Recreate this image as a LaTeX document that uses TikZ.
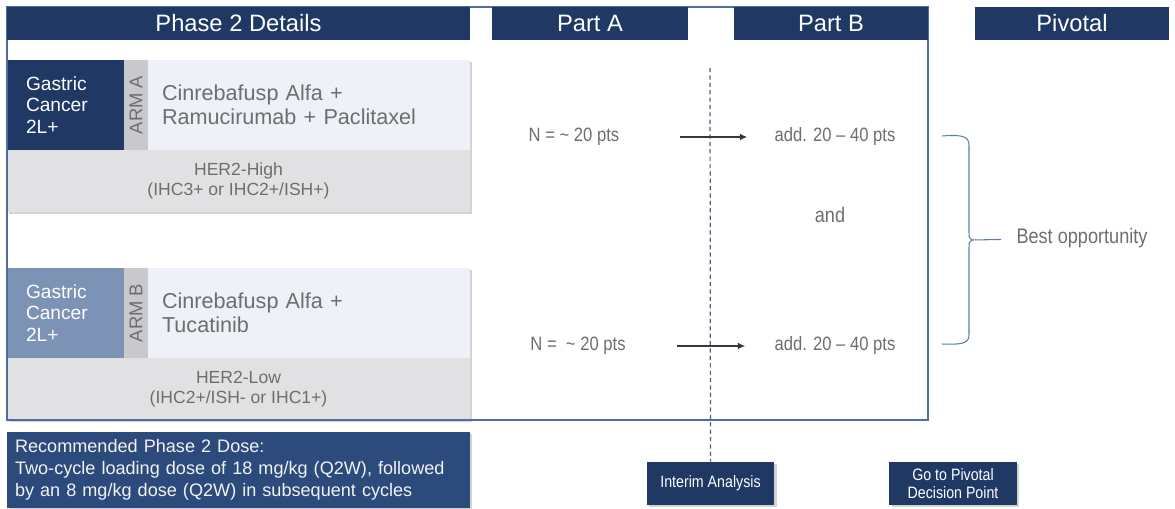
\documentclass[tikz,border=0pt]{standalone}
\usepackage{fontspec}
\setmainfont{Liberation Sans}
\newfontfamily\narrowfont[FakeStretch=0.86,Ligatures=TeX]{Liberation Sans}
\usetikzlibrary{positioning,arrows.meta,shadows}

\definecolor{navy}{RGB}{31,56,100}
\definecolor{dosebl}{RGB}{44,75,124}
\definecolor{steel}{RGB}{124,147,181}
\definecolor{panel}{RGB}{238,241,248}
\definecolor{band}{RGB}{225,225,228}
\definecolor{strip}{RGB}{200,200,205}
\definecolor{framebl}{RGB}{74,110,165}
\definecolor{txtgray}{RGB}{110,110,110}

\begin{document}
\begin{tikzpicture}[
      x=0.02cm, y=-0.02cm,
      shade/.style={drop shadow={shadow xshift=1.3pt, shadow yshift=-1.3pt, opacity=.35}},
      hdrbox/.style={fill=navy, text=white, inner sep=0, minimum height=0.66cm, font=\fontsize{13.5}{16}\selectfont},
      cancerbox/.style={text=white, inner xsep=0.38cm, inner ysep=0, minimum height=1.8cm, text width=1.58cm, align=left, font=\fontsize{10.9}{12.2}\selectfont},
      armbox/.style={fill=strip, text=txtgray, rotate=90, inner sep=0, minimum width=1.8cm, minimum height=0.48cm, font=\fontsize{10.5}{12}\selectfont},
      drugbox/.style={fill=panel, text=txtgray, inner xsep=0.28cm, inner ysep=0, minimum height=1.8cm, text width=5.88cm, align=left, font=\fontsize{12.3}{13.5}\selectfont, shade},
      herbox/.style={fill=band, text=txtgray, inner sep=0, minimum width=9.26cm, minimum height=1.24cm, align=center, font=\fontsize{10}{11.5}\selectfont, shade},
      ptsnode/.style={text=txtgray, inner sep=0, font=\narrowfont\fontsize{11}{13}\selectfont},
      stepbox/.style={fill=navy, text=white, inner sep=0, minimum width=2.55cm, minimum height=0.86cm, align=center, font=\narrowfont\fontsize{9.4}{9.8}\selectfont, shade},
      thickarr/.style={-{Latex[length=1.5mm, width=1.4mm]}, line width=1.1pt, black!78},
    ]
    \useasboundingbox (0,0) rectangle (1175,509);

    % arm A
    \node[cancerbox, fill=navy, minimum width=2.34cm] (gcA) at (65.5,105) {Gastric\\Cancer\\2L+};
    \node[drugbox] (drugA) at (309,105) {Cinrebafusp Alfa +\\Ramucirumab + Paclitaxel};
    \node[armbox] (armA) at (136,105) {ARM A};
    \node[herbox] (herA) at (238.5,181) {HER2-High\\(IHC3+ or IHC2+/ISH+)};

    % arm B
    \node[cancerbox, fill=steel, minimum width=2.34cm] (gcB) at (65.5,313) {Gastric\\Cancer\\2L+};
    \node[drugbox] (drugB) at (309,313) {Cinrebafusp Alfa +\\Tucatinib};
    \node[armbox] (armB) at (136,313) {ARM B};
    \node[herbox] (herB) at (238.5,389) {HER2-Low\\(IHC2+/ISH- or IHC1+)};

    % outline and headers
    \node[draw=framebl, line width=0.8pt, minimum width=18.42cm, minimum height=8.26cm, inner sep=0] (frm) at (467.5,213.5) {};
    \node[hdrbox, minimum width=9.26cm] (ph2) at (238.5,23.5) {Phase 2 Details};
    \node[hdrbox, minimum width=3.92cm] (partA) at (590,23.5) {Part A};
    \node[hdrbox, minimum width=3.88cm] (partB) at (831,23.5) {Part B};
    \node[hdrbox, minimum width=3.88cm] (piv) at (1072,23.5) {Pivotal};

    % dose
    \node[fill=dosebl, text=white!90!gray, inner xsep=0.16cm, inner ysep=0, minimum height=1.52cm,
          text width=8.94cm, align=left, font=\fontsize{10.3}{12.5}\selectfont, shade] (dose) at (238.5,470)
      {Recommended Phase 2 Dose:\\Two-cycle loading dose of 18 mg/kg (Q2W), followed\\by an 8 mg/kg dose (Q2W) in subsequent cycles};

    % decision points
    \node[stepbox] (ia) at (710.5,483.5) {Interim Analysis};
    \node[stepbox] (gopiv) at (953,483.5) {Go to Pivotal\\Decision Point};
    \coordinate (iaTop) at (710,68);
    \draw[navy!80, line width=0.7pt, dash pattern=on 2.4pt off 1.8pt] (iaTop) -- (ia);

    % patients per part
    \node[ptsnode] (nA) at (574,137) {N = \textasciitilde\ 20 pts};
    \node[ptsnode] (addA) at (835,137) {add. 20 \textendash\ 40 pts};
    \draw[thickarr, shorten <=1.2cm, shorten >=0.54cm] (nA) -- (addA);
    \node[ptsnode, font=\narrowfont\fontsize{12}{14}\selectfont] (andtxt) at (830,215) {and};
    \node[ptsnode] (nB) at (578,346) {N = \ \textasciitilde\ 20 pts};
    \node[ptsnode] (addB) at (835,346) {add. 20 \textendash\ 40 pts};
    \draw[thickarr, shorten <=1.02cm, shorten >=0.58cm] (nB) -- (addB);

    % brace
    \coordinate (brTip) at (972,240);
    \draw[framebl!90, line width=0.6pt] (942,136) .. controls (966,134) and (969,138) .. (969,146) -- (969,232)
      .. controls (969,238) .. (brTip) .. controls (969,242) .. (969,248) -- (969,334)
      .. controls (969,342) and (966,345) .. (942,344);
    \node[ptsnode, font=\narrowfont\fontsize{12}{14}\selectfont] (best) at (1082,238) {Best opportunity};
    \draw[framebl!90, line width=0.6pt, shorten >=0.3cm] (brTip) -- (best);
  \end{tikzpicture}
\end{document}
